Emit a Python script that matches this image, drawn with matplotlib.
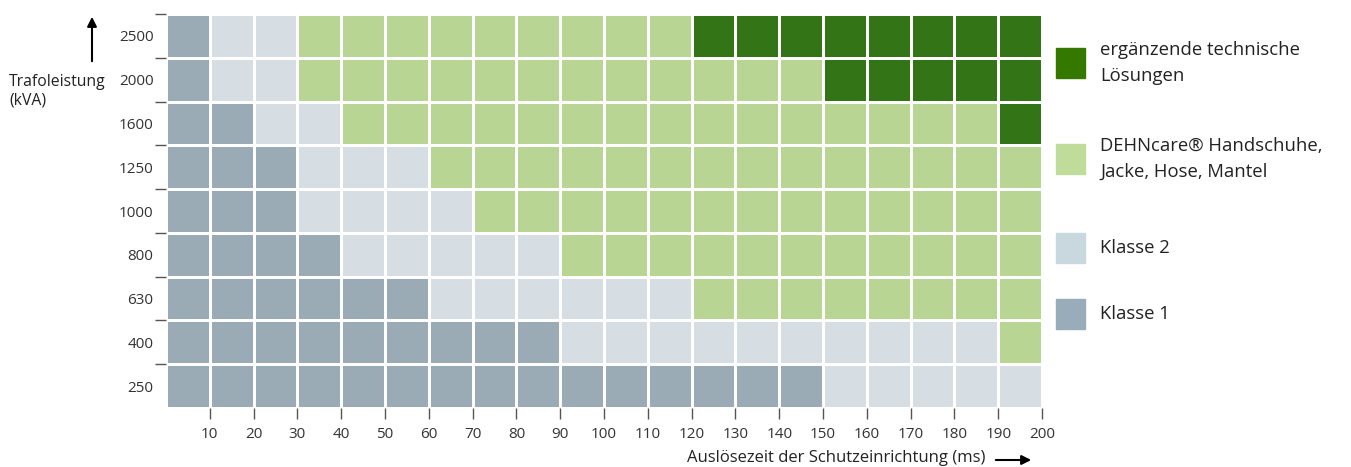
import matplotlib
matplotlib.use("Agg")
import matplotlib.pyplot as plt
import matplotlib.patches as mpatches
from matplotlib.colors import ListedColormap, BoundaryNorm
import numpy as np

plt.rcParams['font.family'] = ['Open Sans', 'DejaVu Sans']

# Transformatorleistung (kVA), von unten nach oben
power_labels = ['250', '400', '630', '800', '1000', '1250', '1600', '2000', '2500']
# Auslösezeit, Spaltengrenzen (ms)
time_ticks = [10, 20, 30, 40, 50, 60, 70, 80, 90, 100,
              110, 120, 130, 140, 150, 160, 170, 180, 190, 200]

# 1 = Klasse 1, 2 = Klasse 2, 3 = DEHNcare, 4 = ergänzende Lösungen
row_250 = [1, 1, 1, 1, 1, 1, 1, 1, 1, 1, 1, 1, 1, 1, 1, 2, 2, 2, 2, 2]
row_400 = [1, 1, 1, 1, 1, 1, 1, 1, 1, 2, 2, 2, 2, 2, 2, 2, 2, 2, 2, 3]
row_630 = [1, 1, 1, 1, 1, 1, 2, 2, 2, 2, 2, 2, 3, 3, 3, 3, 3, 3, 3, 3]
row_800 = [1, 1, 1, 1, 2, 2, 2, 2, 2, 3, 3, 3, 3, 3, 3, 3, 3, 3, 3, 3]
row_1000 = [1, 1, 1, 2, 2, 2, 2, 3, 3, 3, 3, 3, 3, 3, 3, 3, 3, 3, 3, 3]
row_1250 = [1, 1, 1, 2, 2, 2, 3, 3, 3, 3, 3, 3, 3, 3, 3, 3, 3, 3, 3, 3]
row_1600 = [1, 1, 2, 2, 3, 3, 3, 3, 3, 3, 3, 3, 3, 3, 3, 3, 3, 3, 3, 4]
row_2000 = [1, 2, 2, 3, 3, 3, 3, 3, 3, 3, 3, 3, 3, 3, 3, 4, 4, 4, 4, 4]
row_2500 = [1, 2, 2, 3, 3, 3, 3, 3, 3, 3, 3, 3, 4, 4, 4, 4, 4, 4, 4, 4]

legend_labels = ['ergänzende technische\nLösungen',
                 'DEHNcare\u00ae Handschuhe,\nJacke, Hose, Mantel',
                 'Klasse 2', 'Klasse 1']

cell_colors = ['#9aabb6', '#d7dee3', '#b8d593', '#337516']
legend_colors = ['#347800', '#bfdc9a', '#c9d7df', '#98adb9']

grid = np.array([row_250, row_400, row_630, row_800, row_1000,
                 row_1250, row_1600, row_2000, row_2500])

fig = plt.figure(figsize=(13.51, 4.67), dpi=100)
ax = fig.add_axes([0.1229, 0.1263, 0.6484, 0.8437])

x_edges = np.concatenate([[0], time_ticks])
y_edges = np.arange(len(power_labels) + 1)
cmap = ListedColormap(cell_colors)
norm = BoundaryNorm([0.5, 1.5, 2.5, 3.5, 4.5], cmap.N)
ax.pcolormesh(x_edges, y_edges, grid, cmap=cmap, norm=norm,
              edgecolors='white', linewidth=1.8)

ax.set_xlim(0, 200)
ax.set_ylim(0, len(power_labels))
for s in ax.spines.values():
    s.set_visible(False)

ax.set_xticks(time_ticks)
ax.set_xticklabels([str(t) for t in time_ticks])
ax.tick_params(axis='x', length=8, width=1, color='#555555',
               labelsize=11, labelcolor='#333333', pad=6)

ax.set_yticks(y_edges[1:])
ax.set_yticklabels([])
ax.set_yticks(y_edges[:-1] + 0.5, minor=True)
ax.set_yticklabels(power_labels, minor=True)
ax.tick_params(axis='y', which='major', length=8, width=1, color='#555555')
ax.tick_params(axis='y', which='minor', length=0, labelsize=11,
               labelcolor='#333333', pad=9)

# Achsbeschriftungen mit Pfeilen
fig.text(9 / 1351, 1 - 91 / 467, 'Trafoleistung\n(kVA)', ha='left', va='center',
         fontsize=11.3, color='#222222', linespacing=1.25)
fig.add_artist(mpatches.FancyArrowPatch((92 / 1351, 1 - 64 / 467), (92 / 1351, 1 - 14 / 467),
                                        transform=fig.transFigure, arrowstyle='-|>',
                                        mutation_scale=14, color='black', lw=1.5))
fig.text(985 / 1351, 1 - 458 / 467, 'Auslösezeit der Schutzeinrichtung (ms)',
         ha='right', va='center', fontsize=12, color='#222222')
fig.add_artist(mpatches.FancyArrowPatch((993 / 1351, 1 - 460 / 467), (1034 / 1351, 1 - 460 / 467),
                                        transform=fig.transFigure, arrowstyle='-|>',
                                        mutation_scale=14, color='black', lw=1.5))

# Legende
legend_y = [63, 159, 248, 314]
for lbl, col, yc in zip(legend_labels, legend_colors, legend_y):
    fig.add_artist(mpatches.Rectangle((1056 / 1351, 1 - (yc + 15) / 467), 29 / 1351, 30 / 467,
                                      transform=fig.transFigure, color=col))
    fig.text(1100 / 1351, 1 - yc / 467, lbl, ha='left', va='center',
             fontsize=13.3, color='#222222', linespacing=1.6)

fig.savefig('out.png', dpi=100)
